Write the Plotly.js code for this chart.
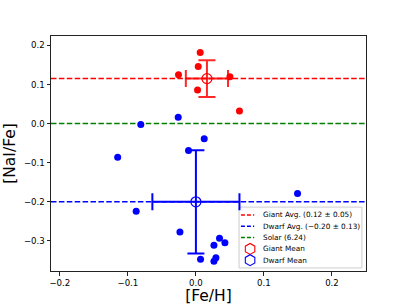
<!DOCTYPE html>
<html>
<head>
<meta charset="utf-8">
<script src="https://cdn.plot.ly/plotly-3.0.1.min.js"></script>
<style>html,body{margin:0;padding:0;background:#fff;}#chart{width:407px;height:305px;}</style>
</head>
<body>
<div id="chart"></div>
<script>
// Data
const giantFeH  = [0.0063, 0.0034, -0.0256, 0.0024, 0.050, 0.064];
const giantNaFe = [0.182, 0.146, 0.125, 0.086, 0.120, 0.032];

const dwarfFeH  = [-0.026, -0.081, 0.0122, -0.0109, -0.115, 0.1494, -0.0878, -0.0235, 0.0347, 0.0426, 0.0265, 0.0294, 0.0068, 0.0265];
const dwarfNaFe = [0.016, -0.0026, -0.039, -0.069, -0.086, -0.179, -0.224, -0.2775, -0.2935, -0.305, -0.311, -0.343, -0.347, -0.352];

const giantMean = {x: 0.0162, y: 0.115, ex: 0.031, ey: 0.047};
const dwarfMean = {x: 0.0, y: -0.200, ex: 0.064, ey: 0.132};
const solarLevel = 0.0;

const legendLabels = ["Giant Avg. (0.12 \u00b1 0.05)", "Dwarf Avg. (\u22120.20 \u00b1 0.13)", "Solar (6.24)", "Giant Mean", "Dwarf Mean"];
const legendColors = ["red", "blue", "green", "red", "blue"];

const xTicks = [-0.2, -0.1, 0.0, 0.1, 0.2];
const yTicks = [-0.3, -0.2, -0.1, 0.0, 0.1, 0.2];
const fmt = v => (v < 0 ? "\u2212" : "") + Math.abs(v).toFixed(1);

const font = "DejaVu Sans, sans-serif";

const traces = [
  {x: giantFeH, y: giantNaFe, type: 'scatter', mode: 'markers',
   marker: {color: 'red', size: 7}, hoverinfo: 'skip'},
  {x: dwarfFeH, y: dwarfNaFe, type: 'scatter', mode: 'markers',
   marker: {color: 'blue', size: 7}, hoverinfo: 'skip'},
  {x: [giantMean.x], y: [giantMean.y], type: 'scatter', mode: 'markers',
   marker: {symbol: 'circle-open', size: 10, color: 'red', line: {width: 1.2, color: 'red'}},
   error_x: {type: 'data', array: [giantMean.ex], color: 'rgba(255,0,0,0.85)', thickness: 2, width: 8.5},
   error_y: {type: 'data', array: [giantMean.ey], color: 'rgba(255,0,0,0.85)', thickness: 2, width: 8.5}},
  {x: [dwarfMean.x], y: [dwarfMean.y], type: 'scatter', mode: 'markers',
   marker: {symbol: 'circle-open', size: 10, color: 'blue', line: {width: 1.2, color: 'blue'}},
   error_x: {type: 'data', array: [dwarfMean.ex], color: 'blue', thickness: 2, width: 8.5},
   error_y: {type: 'data', array: [dwarfMean.ey], color: 'blue', thickness: 2, width: 8.5}},
];

// custom legend geometry (paper coords of plot area)
const lgX0 = 0.597, lgX1 = 0.987, lgY0 = 0.013, lgY1 = 0.272;
const rowY = [0.2383, 0.1902, 0.1421, 0.0940, 0.0460];
const handleX0 = 0.603, handleX1 = 0.645, handleMid = 0.632, textX = 0.668;

// legend hexagon markers via overlay axes
traces.push({
  x: [handleMid, handleMid], y: [rowY[3], rowY[4]], xaxis: 'x2', yaxis: 'y2',
  type: 'scatter', mode: 'markers', hoverinfo: 'skip',
  marker: {symbol: 'hexagon-open', size: 11, color: [legendColors[3], legendColors[4]],
           line: {width: 1.1, color: [legendColors[3], legendColors[4]]}}
});

const dash = '5.5px,2.4px';
const shapes = [
  {type: 'rect', xref: 'paper', yref: 'paper', x0: lgX0, x1: lgX1, y0: lgY0, y1: lgY1,
   line: {color: '#cccccc', width: 1}, fillcolor: 'rgba(255,255,255,0.85)', layer: 'below'},
  {type: 'line', xref: 'paper', yref: 'y', x0: 0, x1: 1, y0: giantMean.y, y1: giantMean.y,
   line: {color: 'red', width: 1.5, dash: dash}, layer: 'below'},
  {type: 'line', xref: 'paper', yref: 'y', x0: 0, x1: 1, y0: dwarfMean.y, y1: dwarfMean.y,
   line: {color: 'blue', width: 1.5, dash: dash}, layer: 'below'},
  {type: 'line', xref: 'paper', yref: 'y', x0: 0, x1: 1, y0: solarLevel, y1: solarLevel,
   line: {color: 'green', width: 1.5, dash: dash}, layer: 'below'},
];
for (let i = 0; i < 3; i++) {
  shapes.push({type: 'line', xref: 'paper', yref: 'paper', x0: handleX0, x1: handleX1, y0: rowY[i], y1: rowY[i],
    line: {color: legendColors[i], width: 1.5, dash: '4px,2px'}, layer: 'above'});
}

const annotations = legendLabels.map((t, i) => ({
  xref: 'paper', yref: 'paper', x: textX, y: rowY[i], text: t, showarrow: false,
  xanchor: 'left', yanchor: 'middle', font: {family: font, size: 7.3, color: '#000'}
}));

const layout = {
  width: 407, height: 305,
  margin: {l: 51, r: 41, t: 36, b: 34},
  paper_bgcolor: '#fff', plot_bgcolor: '#fff',
  showlegend: false,
  font: {family: font, color: '#000'},
  xaxis: {range: [-0.213, 0.25], tickvals: xTicks, ticktext: xTicks.map(fmt),
    showgrid: false, zeroline: false, showline: true, mirror: true, linecolor: '#222', linewidth: 1,
    ticks: 'outside', ticklen: 3.5, tickcolor: '#222', tickfont: {family: font, size: 8.6, color: '#000'},
    automargin: false,
    title: {text: '[Fe/H]', font: {family: font, size: 15.5, color: '#000'}, standoff: 4}},
  yaxis: {range: [-0.377, 0.224], tickvals: yTicks, ticktext: yTicks.map(fmt),
    showgrid: false, zeroline: false, showline: true, mirror: true, linecolor: '#222', linewidth: 1,
    ticks: 'outside', ticklen: 3.5, tickcolor: '#222', tickfont: {family: font, size: 8.6, color: '#000'},
    automargin: false,
    title: {text: '[NaI/Fe]', font: {family: font, size: 15.5, color: '#000'}, standoff: 4}},
  xaxis2: {overlaying: 'x', range: [0, 1], visible: false, fixedrange: true},
  yaxis2: {overlaying: 'y', range: [0, 1], visible: false, fixedrange: true},
  shapes: shapes,
  annotations: annotations
};

Plotly.newPlot('chart', traces, layout, {displayModeBar: false, staticPlot: true});
</script>
</body>
</html>
